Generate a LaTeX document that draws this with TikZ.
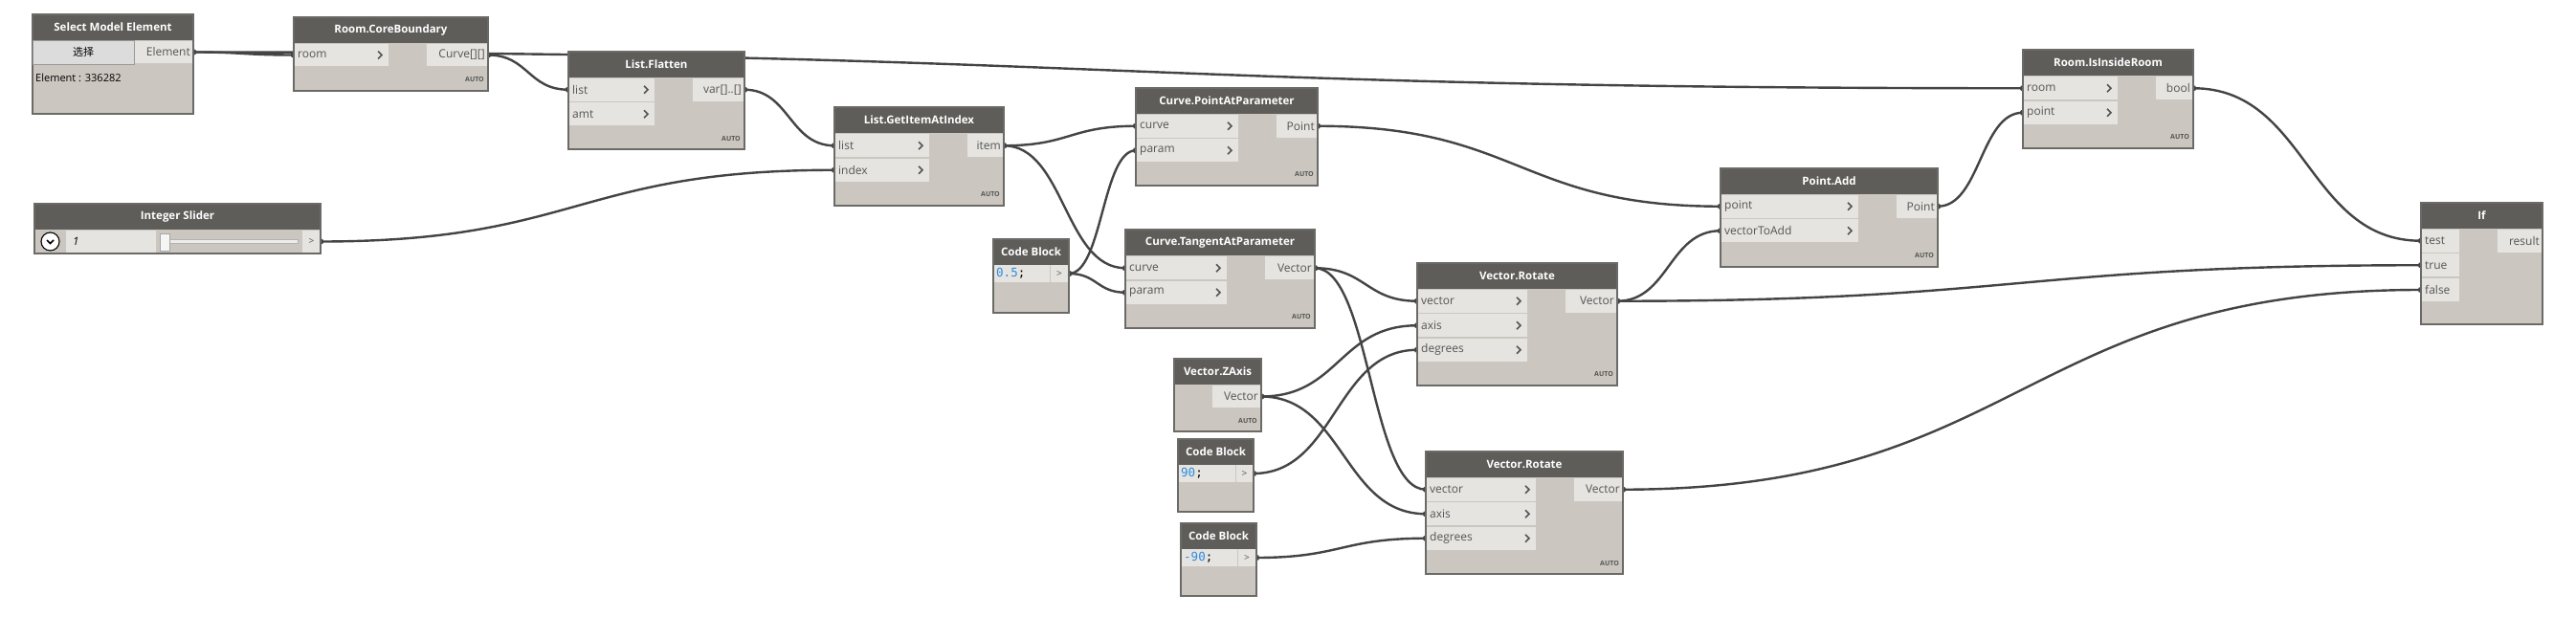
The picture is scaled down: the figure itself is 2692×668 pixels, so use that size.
\documentclass[tikz,border=0pt]{standalone}
\usepackage{fontspec}
\setmainfont{Open Sans}
\newfontfamily\cjk{Noto Sans CJK SC}
\newfontfamily\codefont{DejaVu Sans Mono}
\usetikzlibrary{calc}
\pgfdeclarelayer{bg}
\pgfdeclarelayer{canvas}
\pgfsetlayers{canvas,bg,main}
\definecolor{hdr}{HTML}{5E5D5A}
\definecolor{bodyc}{HTML}{CBC7C0}
\definecolor{rowc}{HTML}{E6E4E0}
\definecolor{edgec}{HTML}{6B6A67}
\definecolor{wirec}{HTML}{444444}
\definecolor{ptext}{HTML}{555555}
\definecolor{codeblue}{HTML}{2D8BE0}
\definecolor{btnc}{HTML}{DCDCDC}
\tikzset{
  wire/.style={draw=wirec, line width=2.4pt},
  hdrtext/.style={text=white, font=\fontsize{11.5}{13}\selectfont\bfseries, inner sep=0pt},
  porttext/.style={text=ptext, font=\fontsize{12}{14}\selectfont, inner sep=0pt},
  autotext/.style={text=ptext, font=\fontsize{7}{8}\selectfont\bfseries, inner sep=0pt},
  chevron/.style={draw=ptext, line width=1.7pt},
  codetext/.style={font=\codefont\fontsize{12.5}{14}\selectfont, inner sep=0pt},
  smalltext/.style={text=black, font=\fontsize{11}{13}\selectfont, inner sep=0pt},
}
% name x1 y1 x2 y2 title
\newcommand\dbox[6]{%
  \fill[bodyc] (#2,#3) rectangle (#4,#5);
  \fill[hdr] (#2,#3) rectangle (#4,#3+27);
  \draw[edgec, line width=1.2pt] (#2,#3) rectangle (#4,#5);
  \node[hdrtext] (#1) at ({(#2+#4)/2},#3+13.5) {#6};
}
% x1 y1 x2 y2 label coordname
\newcommand\inrow[6]{%
  \fill[rowc] (#1+0.6,#2+0.6) rectangle (#3,#4-0.6);
  \node[porttext, anchor=west] (#6-l) at (#1+4,{(#2+#4)/2}) {#5};
  \draw[chevron] (#3-11,{(#2+#4)/2-4}) -- (#3-7,{(#2+#4)/2}) -- (#3-11,{(#2+#4)/2+4});
  \coordinate (#6) at (#1,{(#2+#4)/2});
}
\newcommand\inrowplain[6]{%
  \fill[rowc] (#1+0.6,#2+0.6) rectangle (#3,#4-0.6);
  \node[porttext, anchor=west] (#6-l) at (#1+4,{(#2+#4)/2}) {#5};
  \coordinate (#6) at (#1,{(#2+#4)/2});
}
\newcommand\outrow[6]{%
  \fill[rowc] (#1,#2+0.6) rectangle (#3-0.6,#4-0.6);
  \node[porttext, anchor=east] (#6-l) at (#3-3,{(#2+#4)/2}) {#5};
  \coordinate (#6) at (#3,{(#2+#4)/2});
}
\newcommand\autolbl[3]{\node[autotext, anchor=east] (#1) at (#2,#3) {AUTO};}
\newcommand\wire[2]{%
  \draw[wire] let \p1=(#1), \p2=(#2), \n1={abs(\x2-\x1)/2} in
    (#1) .. controls +(\n1,0) and +(-\n1,0) .. (#2);
  \fill[wirec] (#1) circle (3.2);
  \fill[wirec] (#2) circle (3.2);
}
% code block: name x1 y1 x2 y2 fieldright blue-text coordname
\newcommand\codeblock[8]{%
  \dbox{#1}{#2}{#3}{#4}{#5}{Code Block}
  \fill[rowc] (#2+0.6,#3+27) rectangle (#6,#3+45);
  \fill[rowc] (#6+1.2,#3+27) rectangle (#4-0.6,#3+45);
  \node[codetext, anchor=west] (#1-code) at (#2+3,#3+36) {\textcolor{codeblue}{#7};};
  \node[text=ptext, font=\fontsize{10}{12}\selectfont, inner sep=0pt] (#1-gt) at ({(#6+#4)/2},#3+36) {>};
  \coordinate (#8) at (#4,#3+36);
}
\begin{document}
\begin{tikzpicture}[x=1pt,y=-1pt]
\begin{pgfonlayer}{canvas}
\fill[white] (0,0) rectangle (2692,668);
\end{pgfonlayer}
\useasboundingbox (0,0) rectangle (2692,668);

% Select Model Element
\dbox{sme}{34}{15}{202}{119}{Select Model Element}
\fill[btnc] (34.6,42.6) rectangle (140,67);
\draw[gray!80, line width=0.7pt] (34.6,42.6) rectangle (140,67);
\node[font=\cjk\fontsize{11}{13}\selectfont, text=black, inner sep=0pt] (smebtn) at (87,54.5) {选择};
\outrow{140.5}{42}{202}{67}{Element}{sme-o}
\node[smalltext, anchor=west] (smeval) at (37,81) {Element : 336282};

% Room.CoreBoundary
\dbox{rcb}{307}{18}{510}{95}{Room.CoreBoundary}
\inrow{307}{45}{406}{70}{room}{rcb-i1}
\outrow{446}{45}{510}{70}{Curve[][]}{rcb-o}
\autolbl{rcb-a}{506}{83}

% List.Flatten
\dbox{lf}{594}{54}{778}{156}{List.Flatten}
\inrow{594}{81}{684}{106.5}{list}{lf-i1}
\inrow{594}{106.5}{684}{132}{amt}{lf-i2}
\outrow{724}{81}{778}{106.5}{var[]..[]}{lf-o}
\autolbl{lf-a}{774}{145}

% List.GetItemAtIndex
\dbox{lg}{872}{112}{1049}{215}{List.GetItemAtIndex}
\inrow{872}{139.5}{971}{165}{list}{lg-i1}
\inrow{872}{165}{971}{190.5}{index}{lg-i2}
\outrow{1011}{139.5}{1049}{165}{item}{lg-o}
\autolbl{lg-a}{1045}{203}

% Integer Slider
\dbox{isl}{36}{213}{335}{265}{Integer Slider}
\fill[rowc] (69,240.6) rectangle (163,264.4);
\fill[white] (52.5,252.5) circle (9.5);
\draw[black, line width=1.1pt] (52.5,252.5) circle (9.5);
\draw[black, line width=1.5pt] (49,251) -- (52.5,254.5) -- (56,251);
\node[font=\fontsize{11.5}{13}\selectfont\itshape, text=black, inner sep=0pt, anchor=west] (islval) at (76,252.5) {1};
\fill[rowc!70!white] (168,250.5) rectangle (311,254.5);
\draw[gray!60, line width=0.5pt] (168,250.5) rectangle (311,254.5);
\fill[white!92!gray] (167.5,244) rectangle (177,262);
\draw[gray!70, line width=0.6pt] (167.5,244) rectangle (177,262);
\fill[rowc] (316,240.6) rectangle (334.4,264.4);
\node[text=ptext, font=\fontsize{10}{12}\selectfont, inner sep=0pt] (islgt) at (325.5,252.5) {>};
\coordinate (isl-o) at (335,252.5);

% Code blocks
\codeblock{cba}{1038}{250}{1117}{327}{1097}{0.5}{cba-o}
\codeblock{cbb}{1231}{459}{1310}{535}{1291}{90}{cbb-o}
\codeblock{cbc}{1234}{547}{1313}{623}{1293}{-90}{cbc-o}

% Curve.PointAtParameter
\dbox{cpp}{1187}{92}{1377}{194}{Curve.PointAtParameter}
\inrow{1187}{119}{1294}{144.5}{curve}{cpp-i1}
\inrow{1187}{144.5}{1294}{170}{param}{cpp-i2}
\outrow{1334}{119}{1377}{144.5}{Point}{cpp-o}
\autolbl{cpp-a}{1373}{182}

% Curve.TangentAtParameter
\dbox{ctp}{1176}{240}{1374}{343}{Curve.TangentAtParameter}
\inrow{1176}{267.5}{1282}{293}{curve}{ctp-i1}
\inrow{1176}{293}{1282}{318.5}{param}{ctp-i2}
\outrow{1322}{267.5}{1374}{293}{Vector}{ctp-o}
\autolbl{ctp-a}{1370}{331}

% Vector.ZAxis
\dbox{vz}{1227}{375}{1318}{451}{Vector.ZAxis}
\outrow{1267}{402}{1318}{427}{Vector}{vz-o}
\autolbl{vz-a}{1314}{440}

% Vector.Rotate 1
\dbox{vra}{1481}{275}{1690}{403}{Vector.Rotate}
\inrow{1481}{302}{1596}{327.5}{vector}{vra-i1}
\inrow{1481}{327.5}{1596}{353}{axis}{vra-i2}
\inrow{1481}{353}{1596}{378.5}{degrees}{vra-i3}
\outrow{1636}{302}{1690}{327.5}{Vector}{vra-o}
\autolbl{vra-a}{1686}{391}

% Vector.Rotate 2
\dbox{vrb}{1490}{472}{1696}{600}{Vector.Rotate}
\inrow{1490}{499}{1605}{524.5}{vector}{vrb-i1}
\inrow{1490}{524.5}{1605}{550}{axis}{vrb-i2}
\inrow{1490}{550}{1605}{575.5}{degrees}{vrb-i3}
\outrow{1645}{499}{1696}{524.5}{Vector}{vrb-o}
\autolbl{vrb-a}{1692}{589}

% Point.Add
\dbox{pa}{1798}{176}{2025}{279}{Point.Add}
\inrow{1798}{203}{1942}{228.5}{point}{pa-i1}
\inrow{1798}{228.5}{1942}{254}{vectorToAdd}{pa-i2}
\outrow{1982}{203}{2025}{228.5}{Point}{pa-o}
\autolbl{pa-a}{2021}{267}

% Room.IsInsideRoom
\dbox{rir}{2114}{52}{2292}{155}{Room.IsInsideRoom}
\inrow{2114}{79.5}{2213}{105}{room}{rir-i1}
\inrow{2114}{105}{2213}{130.5}{point}{rir-i2}
\outrow{2253}{79.5}{2292}{105}{bool}{rir-o}
\autolbl{rir-a}{2288}{143}

% If
\dbox{iff}{2530}{212}{2657}{339}{If}
\inrowplain{2530}{239}{2570}{264.5}{test}{iff-i1}
\inrowplain{2530}{264.5}{2570}{290}{true}{iff-i2}
\inrowplain{2530}{290}{2570}{316}{false}{iff-i3}
\outrow{2610}{239}{2657}{264.5}{result}{iff-o}

% Wires
\begin{pgfonlayer}{bg}
\wire{sme-o}{rcb-i1}
\wire{sme-o}{rir-i1}
\wire{rcb-o}{lf-i1}
\wire{lf-o}{lg-i1}
\wire{isl-o}{lg-i2}
\wire{lg-o}{cpp-i1}
\wire{lg-o}{ctp-i1}
\wire{cba-o}{cpp-i2}
\wire{cba-o}{ctp-i2}
\wire{cpp-o}{pa-i1}
\wire{ctp-o}{vra-i1}
\wire{ctp-o}{vrb-i1}
\wire{vz-o}{vra-i2}
\wire{vz-o}{vrb-i2}
\wire{cbb-o}{vra-i3}
\wire{cbc-o}{vrb-i3}
\wire{vra-o}{pa-i2}
\wire{vra-o}{iff-i2}
\wire{vrb-o}{iff-i3}
\wire{pa-o}{rir-i2}
\wire{rir-o}{iff-i1}
\end{pgfonlayer}
\end{tikzpicture}
\end{document}
